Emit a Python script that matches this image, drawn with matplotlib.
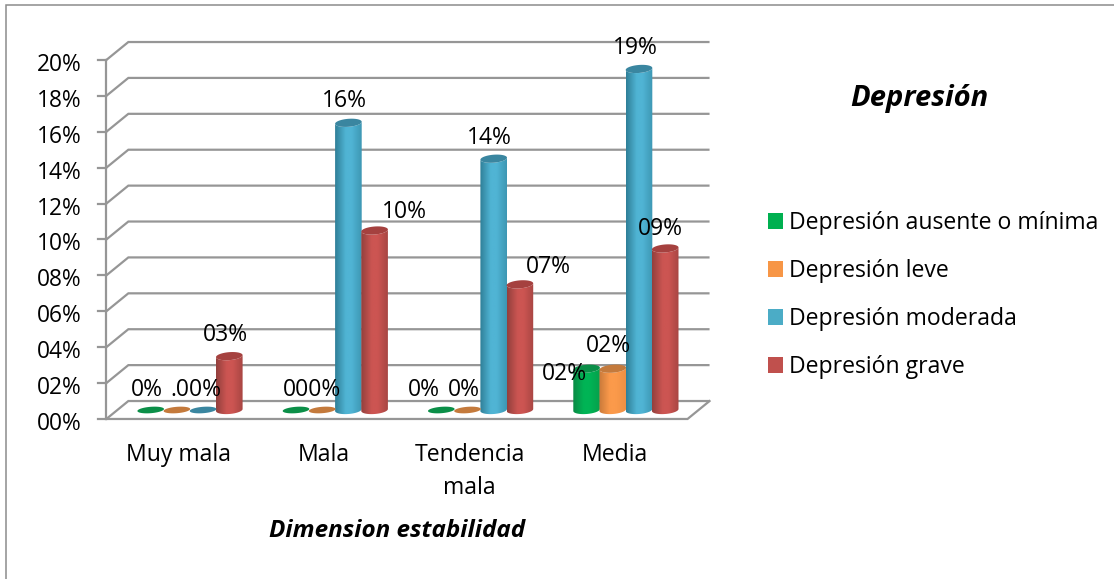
import matplotlib
matplotlib.use('Agg')
import matplotlib.pyplot as plt
import numpy as np
from matplotlib.colors import LinearSegmentedColormap
from matplotlib.patches import Polygon, Rectangle

categories = ['Muy mala', 'Mala', 'Tendencia\nmala', 'Media']
series = ['Depresión ausente o mínima', 'Depresión leve', 'Depresión moderada', 'Depresión grave']
values = {
    'Depresión ausente o mínima': [0, 0, 0, 2.3],
    'Depresión leve': [0, 0, 0, 2.3],
    'Depresión moderada': [0, 16, 14, 19],
    'Depresión grave': [3, 10, 7, 9],
}
value_labels = {
    'Depresión ausente o mínima': ['0%', '000%', '0%', '02%'],
    'Depresión leve': ['.00%', '', '0%', '02%'],
    'Depresión moderada': ['', '16%', '14%', '19%'],
    'Depresión grave': ['03%', '10%', '07%', '09%'],
}
y_ticks = list(range(0, 21, 2))

# label offsets from the top of each cylinder, in pixels
label_offsets = {
    'Depresión ausente o mínima': [(-4, 20), (16, 20), (-17, 20), (-22, -5)],
    'Depresión leve': [(19, 20), (0, 0), (-4, 20), (-4, 23)],
    'Depresión moderada': [(0, 0), (-4, 22), (-4, 21), (-4, 21)],
    'Depresión grave': [(-4, 21), (30, 18), (28, 17), (-5, 19)],
}

# body gradient (left, highlight, right) and cap colour
colors = {
    'Depresión ausente o mínima': ('#0a8a45', '#00b455', '#07a04c', '#0b8f48'),
    'Depresión leve': ('#c9793a', '#fb9a4b', '#ef9044', '#c47a3c'),
    'Depresión moderada': ('#2f7f98', '#50b4d4', '#3d97b3', '#3a86a0'),
    'Depresión grave': ('#93403d', '#cc5552', '#a84643', '#a5413f'),
}
legend_colors = ['#00b050', '#f79646', '#4bacc6', '#c0504d']

GRID = '#969696'
W, H = 1114, 579
PX_X = 145.3     # pixels per category
PX_Y = 17.95     # pixels per percentage point
BASE = 410       # pixel row of zero at mid depth
DX = 11 / PX_X   # half of the floor depth
DY = 0.5
BAR_W = 26.6 / PX_X
CAP_H = 8.0 / PX_Y
TILT = 1.0 / PX_Y
TEXT_SHIFT = 5 / PX_Y

plt.rcParams['font.family'] = ['Open Sans', 'DejaVu Sans']

fig = plt.figure(figsize=(W / 100, H / 100), dpi=100, facecolor='white')
ax = fig.add_axes([0, 0, 1, 1])
ax.axis('off')

fig.add_artist(Rectangle((6 / W, -0.01), 1.1, 1 - 5 / H + 0.01, transform=fig.transFigure,
                         fill=False, edgecolor='#8c8c8c', linewidth=1.1))

# back wall lines with their slanted part on the side wall
lw = 1.6
for v in y_ticks:
    ax.plot([-0.5 - DX, -0.5 + DX, 3.5 + DX], [v - DY, v + DY, v + DY], color=GRID, lw=lw,
            solid_capstyle='butt', solid_joinstyle='miter', zorder=1)
    ax.plot([-0.5 - DX - 8 / PX_X, -0.5 - DX], [v - DY, v - DY], color=GRID, lw=lw, zorder=1)
    ax.text(-0.5 - DX - 25 / PX_X, v - DY - TEXT_SHIFT, f'{v:02d}%', ha='right', va='center',
            fontsize=16.4, color='black', zorder=5)
ax.plot([-0.5 - DX, -0.5 - DX], [-DY, 20 - DY], color=GRID, lw=lw, zorder=1)
# floor
ax.plot([-0.5 - DX, 3.5 - DX, 3.5 + DX], [-DY, -DY, DY], color=GRID, lw=lw,
        solid_joinstyle='miter', zorder=1)

for i, cat in enumerate(categories):
    ax.text(i - DX, -1.85, cat, ha='center', va='top', fontsize=16.6, linespacing=1.5, color='black')


def cap_outline(x, v, t, squash=1.0):
    return (x + BAR_W / 2 * np.cos(t),
            v + squash * CAP_H / 2 * np.sin(t) + TILT * np.cos(t))


def draw_cylinder(x, v, name):
    left, mid, right, cap = colors[name]
    if v > 0:
        t = np.linspace(np.pi, 2 * np.pi, 40)
        bx, by = cap_outline(x, 0, t)
        tx, ty = cap_outline(x, v, t[::-1])
        body = Polygon(np.c_[np.r_[bx, tx], np.r_[by, ty]], transform=ax.transData, fc='none', ec='none')
        ax.add_patch(body)
        cmap = LinearSegmentedColormap.from_list('c', [(0, left), (0.4, mid), (0.62, mid), (1, right)])
        grad = np.linspace(0, 1, 64)[None, :]
        im = ax.imshow(grad, cmap=cmap, extent=[x - BAR_W / 2, x + BAR_W / 2, -CAP_H, v + CAP_H],
                       aspect='auto', origin='lower', zorder=3)
        im.set_clip_path(body)
    t = np.linspace(0, 2 * np.pi, 60)
    cx, cy = cap_outline(x, v, t, 1 if v > 0 else 0.8)
    ax.add_patch(Polygon(np.c_[cx, cy], facecolor=cap, edgecolor='none', zorder=3.1))


for s, name in enumerate(series):
    for i, v in enumerate(values[name]):
        x = i + (s - 1.5) * BAR_W * 0.985
        draw_cylinder(x, v, name)
        if value_labels[name][i]:
            ax.annotate(value_labels[name][i], (x, v), xytext=label_offsets[name][i],
                        textcoords='offset pixels', ha='center', va='center', fontsize=16.5,
                        color='black', zorder=6)

ax.set_xlim(-190 / PX_X, (W - 190) / PX_X)
ax.set_ylim((BASE - H) / PX_Y, BASE / PX_Y)

handles = [Rectangle((0, 0), 1, 1, facecolor=c, edgecolor='none') for c in legend_colors]
fig.legend(handles, series, loc='upper left', bbox_to_anchor=(768 / W, 1 - 211 / H), frameon=False,
           fontsize=16.6, handlelength=0.65, handleheight=0.65, handletextpad=0.25,
           labelspacing=1.04, borderpad=0, borderaxespad=0)

fig.text(919 / W, 1 - 99 / H, 'Depresión', ha='center', va='center', fontsize=21,
         fontweight='bold', fontstyle='italic', family=['Open Sans', 'DejaVu Sans'])
fig.text(397 / W, 1 - 531 / H, 'Dimension estabilidad', ha='center', va='center', fontsize=17.5,
         fontweight='bold', fontstyle='italic', family=['Open Sans', 'DejaVu Sans'])

fig.savefig('out.png', dpi=100, facecolor='white')
